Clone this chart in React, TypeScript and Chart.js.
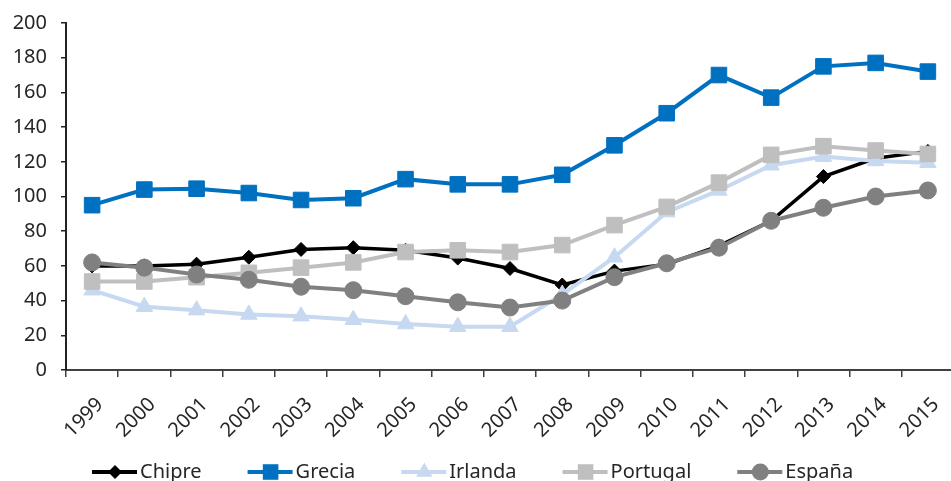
import React, { useEffect, useRef } from 'react';
import { Chart, registerables } from 'chart.js';

Chart.register(...registerables);

const years = ['1999', '2000', '2001', '2002', '2003', '2004', '2005', '2006', '2007', '2008', '2009', '2010', '2011', '2012', '2013', '2014', '2015'];
const chipre = [60, 60, 61, 65, 69.5, 70.5, 69, 64.5, 58.5, 49, 57, 61, 71.5, 86, 111.5, 122, 126];
const grecia = [95, 104, 104.5, 102, 98, 99, 110, 107, 107, 112.5, 129.5, 148, 170, 157, 175, 177, 172];
const irlanda = [46, 36.5, 34.5, 32, 31, 29, 26.5, 25, 25, 43.5, 65, 91, 103.5, 118, 123, 120.5, 119.5];
const portugal = [51, 51, 53.5, 56, 59, 62, 68, 69, 68, 72, 83.5, 94, 108, 124, 129, 126.5, 124.5];
const espana = [62, 59, 55, 52, 48, 46, 42.5, 39, 36, 40, 53.5, 61.5, 70.5, 86, 93.5, 100, 103.5];
const yTicks = [0, 20, 40, 60, 80, 100, 120, 140, 160, 180, 200];

const FONT = "'Noto Sans', sans-serif";
const TEXT = '#262626';
const W = 951;
const CW = 966;
const H = 481;

function drawMarker(ctx: CanvasRenderingContext2D, style: string, x: number, y: number, r: number, color: string) {
  ctx.save();
  ctx.fillStyle = color;
  ctx.beginPath();
  if (style === 'rectRot') {
    ctx.moveTo(x, y - r);
    ctx.lineTo(x + r, y);
    ctx.lineTo(x, y + r);
    ctx.lineTo(x - r, y);
    ctx.closePath();
  } else if (style === 'rect') {
    const s = r * Math.SQRT1_2;
    ctx.rect(x - s, y - s, 2 * s, 2 * s);
  } else if (style === 'triangle') {
    for (let i = 0; i < 3; i++) {
      const a = (i * 2 * Math.PI) / 3;
      const px = x + Math.sin(a) * r;
      const py = y - Math.cos(a) * r;
      if (i === 0) ctx.moveTo(px, py);
      else ctx.lineTo(px, py);
    }
    ctx.closePath();
  } else {
    ctx.arc(x, y, r, 0, Math.PI * 2);
  }
  ctx.fill();
  ctx.restore();
}

const legendPlugin = {
  id: 'customLegend',
  afterDraw(chart: any) {
    const ctx: CanvasRenderingContext2D = chart.ctx;
    const y = 472;
    let x = 92;
    ctx.save();
    ctx.font = `20px ${FONT}`;
    ctx.textBaseline = 'alphabetic';
    ctx.textAlign = 'left';
    chart.data.datasets.forEach((ds: any) => {
      ctx.strokeStyle = ds.borderColor;
      ctx.lineWidth = 4;
      ctx.beginPath();
      ctx.moveTo(x, y);
      ctx.lineTo(x + 45, y);
      ctx.stroke();
      drawMarker(ctx, ds.pointStyle, x + 23, y, ds.legendRadius, ds.pointBackgroundColor);
      ctx.fillStyle = TEXT;
      ctx.fillText(ds.label, x + 48, 478);
      const w = ctx.measureText(ds.label).width;
      x = x + 48 + w + 46;
    });
    ctx.restore();
  },
};

export default function App() {
  const ref = useRef<HTMLCanvasElement>(null);

  useEffect(() => {
    document.body.style.margin = '0';
    if (!ref.current) return;
    const mk = (label: string, data: number[], color: string, style: string, r: number, lw: number, order: number, legendRadius: number) => ({
      label,
      data,
      borderColor: color,
      backgroundColor: color,
      pointBackgroundColor: color,
      pointBorderColor: color,
      pointBorderWidth: 1,
      pointStyle: style,
      pointRadius: r,
      borderWidth: lw,
      tension: 0,
      order,
      legendRadius,
    });
    const chart = new Chart(ref.current, {
      type: 'line',
      data: {
        labels: years,
        datasets: [
          mk('Chipre', chipre, '#000000', 'rectRot', 7, 3.5, 5, 7),
          mk('Grecia', grecia, '#0070C0', 'rect', 11, 4, 4, 11),
          mk('Irlanda', irlanda, '#C6D9F1', 'triangle', 9.5, 4, 3, 9.5),
          mk('Portugal', portugal, '#BFBFBF', 'rect', 11, 4, 2, 11),
          mk('España', espana, '#808080', 'circle', 8.5, 4, 1, 8.5),
        ] as any,
      },
      options: {
        animation: false,
        responsive: false,
        devicePixelRatio: 1,
        layout: { padding: { top: 23, right: 0, left: 0, bottom: 0 } },
        plugins: { legend: { display: false }, tooltip: { enabled: false } },
        scales: {
          x: {
            type: 'category',
            offset: true,
            afterFit: (scale: any) => {
              scale.height = 111;
              scale.paddingLeft = 0;
              scale.paddingRight = 0;
            },
            grid: { display: true, drawOnChartArea: false, drawTicks: true, tickLength: 7, color: '#404040', lineWidth: 1.5, offset: true },
            border: { display: true, color: '#404040', width: 2 },
            ticks: { minRotation: 45, maxRotation: 45, autoSkip: false, padding: 16, labelOffset: 8, color: TEXT, font: { family: FONT, size: 20 } },
          },
          y: {
            min: 0,
            max: 200,
            afterBuildTicks: (scale: any) => {
              scale.ticks = yTicks.map((v) => ({ value: v }));
            },
            afterFit: (scale: any) => {
              scale.width = 66;
              scale.paddingTop = 0;
              scale.paddingBottom = 0;
            },
            grid: { display: true, drawOnChartArea: false, drawTicks: true, tickLength: 5, color: '#222', lineWidth: 1.5 },
            border: { display: true, color: '#222', width: 2 },
            ticks: { padding: 14, color: TEXT, font: { family: FONT, size: 20 } },
          },
        },
      },
      plugins: [legendPlugin],
    });
    return () => chart.destroy();
  }, []);

  return (
    <div style={{ width: W, height: H, overflow: 'hidden' }}>
      <canvas ref={ref} width={CW} height={H} style={{ width: CW, height: H, display: 'block' }} />
    </div>
  );
}
